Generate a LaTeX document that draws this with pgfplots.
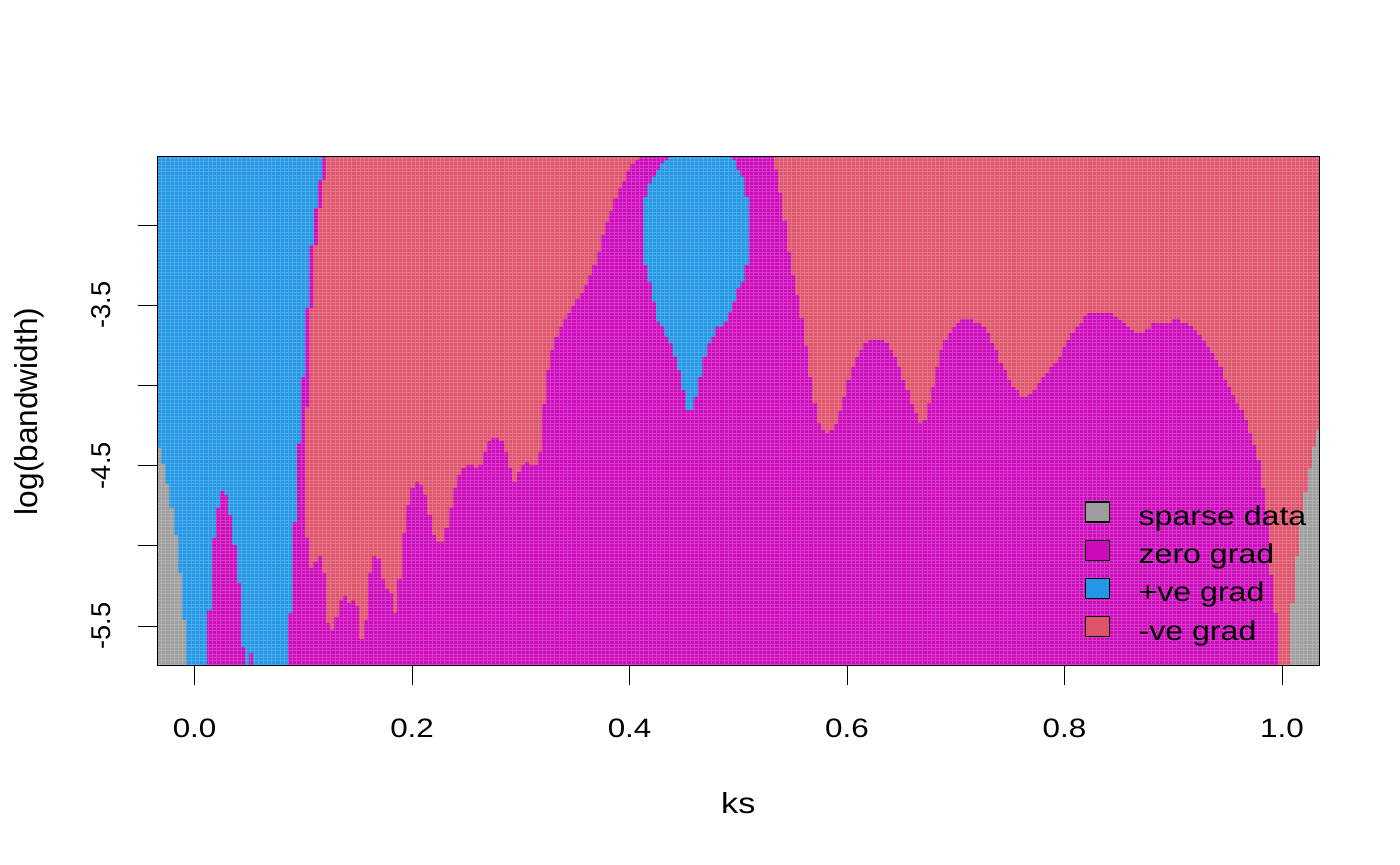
\documentclass[border=0pt]{standalone}
\usepackage{fontspec}
\setmainfont{Liberation Sans}
\newfontfamily\widefont{Liberation Sans}[FakeStretch=1.18]
\usepackage{pgfplots}
\pgfplotsset{compat=1.18}
\definecolor{sgrey}{HTML}{9E9E9E}
\definecolor{smag}{HTML}{CD0BBC}
\definecolor{sblue}{HTML}{2297E6}
\definecolor{sred}{HTML}{DF536B}
\newcommand\fs{\fontsize{13.3}{16}\selectfont}
\newcommand\fx{\widefont\fontsize{13.3}{16}\selectfont}
\newcommand\fl{\widefont\fontsize{13.6}{16}\selectfont}
\begin{document}
\begin{tikzpicture}[font=\fs]
\path[use as bounding box] (0,0) rectangle (700pt,432.5pt);
\begin{axis}[
  at={(78.65pt,99.5pt)}, anchor=south west,
  scale only axis, width=581pt, height=254.5pt,
  xmin=-0.0343, xmax=1.0343, ymin=-5.749, ymax=-2.576,
  axis on top,
  xtick={0,0.2,0.4,0.6,0.8,1.0},
  xticklabels={0.0,0.2,0.4,0.6,0.8,1.0},
  ytick={-5.5,-5,-4.5,-4,-3.5,-3},
  yticklabels={-5.5,,-4.5,,-3.5,},
  tick align=outside,
  major tick length=9.5pt,
  xtick pos=bottom, ytick pos=left,
  tick style={black, line width=0.5pt},
  axis line style={black, line width=0.5pt},
  xticklabel style={font=\fx, anchor=base},
  xticklabel shift=26.2pt,
  yticklabel style={font=\fontsize{13.6}{16}\selectfont, rotate=90, anchor=base},
  yticklabel shift=13.8pt,
  xlabel={ks}, ylabel={log(bandwidth)},
  xlabel style={font=\widefont\fontsize{14.5}{17}\selectfont, at={(axis description cs:0.5,0)}, anchor=base, yshift=-74pt},
  ylabel style={font=\fontsize{15.8}{19}\selectfont, at={(axis description cs:-0.1031,0.5)}, anchor=base},
  legend style={draw=none, fill=none, font=\fl, at={(axis description cs:0.7984,0.3234)}, anchor=north west, inner sep=0pt, outer sep=0pt, row sep=4pt, column sep=14.2pt, nodes={inner sep=0pt, text height=9pt, text depth=3pt}},
  legend cell align=left,
  legend image code/.code={\draw[#1, draw=black, line width=0.6pt] (0pt,-1.2pt) rectangle (12pt,8.8pt);},
]
% -ve grad background
\addplot[fill=sred, draw=none, forget plot] coordinates {(-0.05,-5.8)(-0.05,-2.5)(1.05,-2.5)(1.05,-5.8)};
% zero grad, left strip block
\addplot[fill=smag, draw=none, forget plot] coordinates {(-0.05,-5.8)(-0.05,-2.5)(0.1206,-2.5)(0.1206,-2.719)(0.1170,-2.719)(0.1170,-2.894)(0.1133,-2.894)(0.1133,-3.125)(0.1092,-3.125)(0.1092,-3.517)(0.1056,-3.517)(0.1056,-4.135)(0.1016,-4.135)(0.1016,-5.8)};
% zero grad, bulk
\addplot[fill=smag, draw=none, forget plot, const plot] coordinates {
(0.1016,-5.8)(0.1016,-4.951)(0.1053,-5.138)(0.1090,-5.101)(0.1136,-5.064)(0.1172,-5.170)(0.1209,-5.481)(0.1246,-5.525)(0.1283,-5.444)(0.1329,-5.338)(0.1366,-5.313)(0.1402,-5.357)(0.1439,-5.338)(0.1476,-5.375)(0.1513,-5.581)(0.1559,-5.463)(0.1595,-5.170)(0.1632,-5.064)(0.1669,-5.082)(0.1715,-5.207)(0.1752,-5.269)(0.1789,-5.294)(0.1825,-5.419)(0.1862,-5.207)(0.1908,-4.920)(0.1945,-4.746)(0.1982,-4.640)(0.2028,-4.602)(0.2064,-4.621)(0.2101,-4.683)(0.2138,-4.808)(0.2184,-4.933)(0.2221,-4.976)(0.2294,-4.889)(0.2340,-4.764)(0.2377,-4.640)(0.2414,-4.559)(0.2451,-4.515)(0.2497,-4.496)(0.2570,-4.515)(0.2607,-4.496)(0.2653,-4.415)(0.2690,-4.347)(0.2726,-4.328)(0.2800,-4.347)(0.2846,-4.415)(0.2883,-4.515)(0.2920,-4.602)(0.2966,-4.540)(0.3002,-4.496)(0.3039,-4.478)(0.3076,-4.496)(0.3159,-4.415)(0.3195,-4.116)(0.3232,-3.904)(0.3269,-3.779)(0.3306,-3.698)(0.3352,-3.636)(0.3389,-3.586)(0.3425,-3.549)(0.3462,-3.505)(0.3499,-3.461)(0.3545,-3.424)(0.3582,-3.374)(0.3618,-3.312)(0.3655,-3.249)(0.3701,-3.168)(0.3738,-3.062)(0.3775,-2.981)(0.3812,-2.913)(0.3848,-2.832)(0.3894,-2.769)(0.3931,-2.726)(0.3968,-2.663)(0.4005,-2.620)(0.4051,-2.595)(0.4087,-2.5)
(0.5329,-2.657)(0.5366,-2.800)(0.5402,-2.975)(0.5448,-3.168)(0.5485,-3.312)(0.5522,-3.436)(0.5559,-3.580)(0.5605,-3.754)(0.5641,-3.948)(0.5678,-4.110)(0.5724,-4.234)(0.5761,-4.278)(0.5798,-4.297)(0.5835,-4.278)(0.5880,-4.241)(0.5917,-4.160)(0.5954,-4.072)(0.5991,-3.966)(0.6037,-3.885)(0.6074,-3.823)(0.6110,-3.779)(0.6147,-3.736)(0.6193,-3.717)(0.6340,-3.736)(0.6386,-3.779)(0.6423,-3.823)(0.6460,-3.885)(0.6496,-3.966)(0.6533,-4.029)(0.6579,-4.116)(0.6616,-4.172)(0.6653,-4.234)(0.6690,-4.216)(0.6736,-4.110)(0.6772,-4.010)(0.6809,-3.885)(0.6846,-3.779)(0.6883,-3.717)(0.6929,-3.673)(0.6966,-3.636)(0.7002,-3.611)(0.7039,-3.586)(0.7159,-3.611)(0.7232,-3.636)(0.7278,-3.673)(0.7315,-3.736)(0.7352,-3.779)(0.7389,-3.860)(0.7435,-3.904)(0.7471,-3.966)(0.7508,-4.010)(0.7545,-4.029)(0.7582,-4.072)(0.7664,-4.054)(0.7701,-4.029)(0.7747,-3.985)(0.7784,-3.948)(0.7821,-3.923)(0.7857,-3.885)(0.7894,-3.860)(0.7940,-3.823)(0.7977,-3.761)(0.8014,-3.717)(0.8051,-3.673)(0.8097,-3.636)(0.8133,-3.611)(0.8170,-3.567)(0.8207,-3.549)(0.8446,-3.574)(0.8492,-3.592)(0.8529,-3.611)(0.8566,-3.636)(0.8602,-3.655)(0.8639,-3.673)(0.8740,-3.648)(0.8796,-3.611)(0.8989,-3.586)(0.9062,-3.611)(0.9136,-3.630)(0.9182,-3.655)(0.9218,-3.686)(0.9264,-3.723)(0.9301,-3.761)(0.9338,-3.798)(0.9375,-3.842)(0.9411,-3.885)(0.9457,-3.966)(0.9494,-4.010)(0.9531,-4.060)(0.9568,-4.110)(0.9604,-4.153)(0.9651,-4.216)(0.9687,-4.297)(0.9724,-4.372)(0.9761,-4.465)(0.9807,-4.640)(0.9844,-4.795)(0.9881,-5.182)(0.9917,-5.419)(0.9963,-5.419)(0.9963,-5.8)};
% +ve grad, left
\addplot[fill=sblue, draw=none, forget plot] coordinates {(-0.05,-5.8)(-0.05,-2.5)(0.1170,-2.5)(0.1170,-2.719)(0.1133,-2.719)(0.1133,-2.894)(0.1096,-2.894)(0.1096,-3.125)(0.1056,-3.125)(0.1056,-3.517)(0.1016,-3.517)(0.1016,-3.948)(0.0979,-3.948)(0.0979,-4.359)(0.0940,-4.359)(0.0940,-4.852)(0.0899,-4.852)(0.0899,-5.419)(0.0860,-5.419)(0.0860,-5.8)};
% zero grad finger
\addplot[fill=smag, draw=none, forget plot, const plot] coordinates {(0.0115,-5.8)(0.0115,-5.400)(0.0161,-4.951)(0.0198,-4.764)(0.0234,-4.658)(0.0271,-4.683)(0.0308,-4.808)(0.0345,-4.995)(0.0391,-5.232)(0.0428,-5.631)(0.0464,-5.8)(0.0501,-5.668)(0.0538,-5.668)(0.0538,-5.8)};
% +ve grad, blob
\addplot[fill=sblue, draw=none, forget plot] coordinates {(0.4357,-2.5)(0.4357,-2.595)(0.4320,-2.595)(0.4320,-2.615)(0.4281,-2.615)(0.4281,-2.657)(0.4244,-2.657)(0.4244,-2.699)(0.4204,-2.699)(0.4204,-2.740)(0.4164,-2.740)(0.4164,-2.824)(0.4127,-2.824)(0.4127,-3.249)(0.4164,-3.249)(0.4164,-3.353)(0.4204,-3.353)(0.4204,-3.478)(0.4244,-3.478)(0.4244,-3.603)(0.4281,-3.603)(0.4281,-3.634)(0.4320,-3.634)(0.4320,-3.696)(0.4357,-3.696)(0.4357,-3.738)(0.4397,-3.738)(0.4397,-3.821)(0.4437,-3.821)(0.4437,-3.904)(0.4474,-3.904)(0.4474,-4.029)(0.4513,-4.029)(0.4513,-4.153)(0.4590,-4.153)(0.4590,-4.070)(0.4630,-4.070)(0.4630,-3.946)(0.4669,-3.946)(0.4669,-3.821)(0.4710,-3.821)(0.4710,-3.738)(0.4749,-3.738)(0.4749,-3.696)(0.4786,-3.696)(0.4786,-3.634)(0.4863,-3.634)(0.4863,-3.603)(0.4903,-3.603)(0.4903,-3.541)(0.4940,-3.541)(0.4940,-3.478)(0.4979,-3.478)(0.4979,-3.395)(0.5019,-3.395)(0.5019,-3.353)(0.5056,-3.353)(0.5056,-3.249)(0.5096,-3.249)(0.5096,-2.824)(0.5056,-2.824)(0.5056,-2.699)(0.5019,-2.699)(0.5019,-2.657)(0.4979,-2.657)(0.4979,-2.595)(0.4940,-2.595)(0.4940,-2.5)};
% sparse data
\addplot[fill=sgrey, draw=none, forget plot, const plot] coordinates {(-0.05,-5.8)(-0.05,-4.390)(-0.0308,-4.490)(-0.0271,-4.615)(-0.0234,-4.764)(-0.0189,-4.933)(-0.0152,-5.170)(-0.0115,-5.463)(-0.0078,-5.463)(-0.0078,-5.8)};
\addplot[fill=sgrey, draw=none, forget plot, const plot] coordinates {(1.0074,-5.8)(1.0074,-5.357)(1.0120,-5.064)(1.0156,-4.789)(1.0193,-4.665)(1.0239,-4.515)(1.0276,-4.384)(1.0312,-4.278)(1.05,-4.278)(1.05,-5.8)};
% cell texture
\draw[white, opacity=0.2, line width=0.3pt, xstep=2.115pt, ystep=1.675pt] (rel axis cs:0,0) grid (rel axis cs:1,1);
\addlegendimage{fill=sgrey}
\addlegendentry{sparse data}
\addlegendimage{fill=smag}
\addlegendentry{zero grad}
\addlegendimage{fill=sblue}
\addlegendentry{+ve grad}
\addlegendimage{fill=sred}
\addlegendentry{-ve grad}
\end{axis}
\end{tikzpicture}
\end{document}
